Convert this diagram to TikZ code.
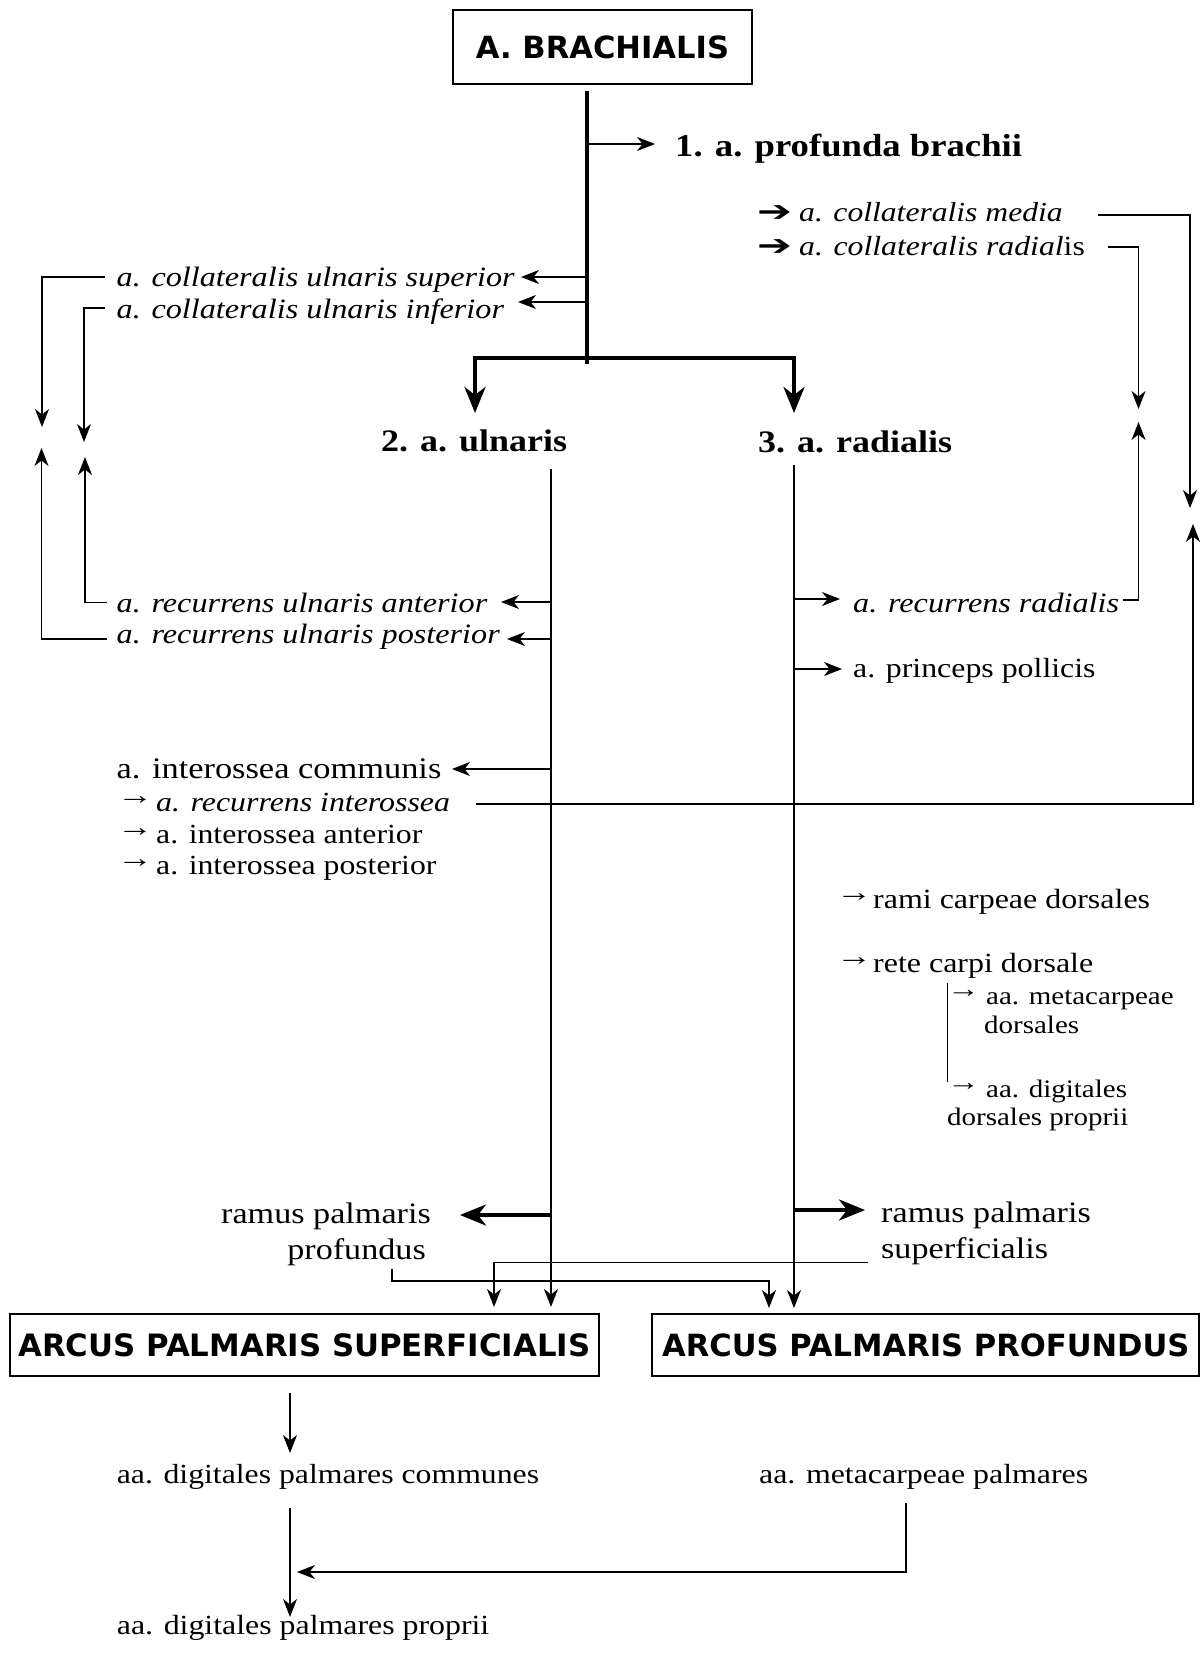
\documentclass[tikz,border=0pt]{standalone}
\usepackage{graphicx}
\usepackage{fontspec}
\setmainfont{Liberation Serif}
\newfontfamily\boxfont{DejaVu Sans}
\newfontfamily\dingfont{DejaVu Sans}
\usetikzlibrary{arrows.meta}

\newcommand\fsz[1]{\fontsize{#1}{#1}\selectfont}
% the serif lettering is set slightly wide
\newcommand\sx[1]{\scalebox{1.15}[1]{#1}}
\newcommand\sarr{\raisebox{6.5pt}{\scalebox{1.3}[1]{→}}}
\newcommand\harr{\smash{\scalebox{1.3}[0.9]{\dingfont\fsz{32}➔}}}

\tikzset{
  arrS/.tip={Stealth[length=18pt,width=14pt,inset=5.5pt]},
  arrB/.tip={Stealth[length=26pt,width=21pt,inset=8pt]},
  lbl/.style={inner sep=0pt, anchor=base west},
  txtrm/.style={lbl, font=\fsz{28.5}},
  txtit/.style={lbl, font=\fsz{28}\itshape},
  txtbf/.style={lbl, font=\fsz{31.3}\bfseries},
  boxed/.style={draw, line width=1.8pt, inner sep=0pt, font=\boxfont\bfseries\fsz{30.6}},
  conn/.style={line width=1.2pt},
  sarrow/.style={conn, -{arrS}},
  vline/.style={line width=2pt, -{arrS}},
  barrow/.style={line width=4pt, -{arrB}},
}

\begin{document}
\begin{tikzpicture}[x=1pt,y=-1pt]
  % page
  \fill[white] (0,0) rectangle (1201,1653);
  \useasboundingbox (0,0) rectangle (1201,1653);

  % ---------- nodes ----------
  \node[boxed, minimum width=299pt, minimum height=74pt, line width=1.4pt] (brach) at (602.5,47) {A. BRACHIALIS};
  \node[txtbf, font=\fsz{31.9}\bfseries] (prof) at (675,157) {\sx{1. a. profunda brachii}};
  \node[txtbf] (uln) at (381,451) {\sx{2. a. ulnaris}};
  \node[txtbf] (rad) at (758,452) {\sx{3. a. radialis}};

  \node[txtit] (cus) at (116.5,287) {\sx{a. collateralis ulnaris superior}};
  \node[txtit] (cui) at (116.5,318) {\sx{a. collateralis ulnaris inferior}};

  \node[txtrm] (cmed) at (757,222) {\makebox[42pt][l]{\harr}\sx{\itshape\fsz{27.5}a. collateralis media}};
  \node[txtrm] (crad) at (757,255) {\makebox[42pt][l]{\harr}\sx{\fsz{27.6}\textit{a. collateralis radial}is}};

  \node[txtit] (rua) at (116.5,612) {\sx{a. recurrens ulnaris anterior}};
  \node[txtit] (rup) at (116.5,643) {\sx{a. recurrens ulnaris posterior}};

  \node[txtrm, font=\fsz{29.9}] (icom) at (116.5,778) {\sx{a. interossea communis}};
  \node[txtrm, font=\fsz{27.7}] (rint) at (117,811) {\makebox[39pt][l]{\sarr}\sx{\itshape a. recurrens interossea}};
  \node[txtrm, font=\fsz{27.6}] (iant) at (117,843) {\makebox[39pt][l]{\sarr}\sx{a. interossea anterior}};
  \node[txtrm, font=\fsz{27.6}] (ipos) at (117,874) {\makebox[39pt][l]{\sarr}\sx{a. interossea posterior}};

  \node[txtit] (rrad) at (853,612) {\sx{a. recurrens radialis}};
  \node[txtrm, font=\fsz{27.7}] (ppol) at (853,677) {\sx{a. princeps pollicis}};

  \node[txtrm, font=\fsz{27.8}] (rcd) at (836,908) {\makebox[37pt][l]{\sarr}\sx{rami carpeae dorsales}};
  \node[txtrm, font=\fsz{27.8}] (rete) at (836,972) {\makebox[37pt][l]{\sarr}\sx{rete carpi dorsale}};
  \node[txtrm, font=\fsz{25.2}] (mcda) at (947,1004) {\makebox[39pt][l]{\sarr}\sx{aa. metacarpeae}};
  \node[txtrm, font=\fsz{25.2}] (mcdb) at (984,1033) {\sx{dorsales}};
  \node[txtrm, font=\fsz{25.2}] (ddpa) at (947,1097) {\makebox[39pt][l]{\sarr}\sx{aa. digitales}};
  \node[txtrm, font=\fsz{25.2}] (ddpb) at (947,1125) {\sx{dorsales proprii}};

  \node[txtrm, font=\fsz{29.7}] (rpsa) at (881,1222) {\sx{ramus palmaris}};
  \node[txtrm, font=\fsz{29.7}] (rpsb) at (881,1258) {\sx{superficialis}};
  \node[txtrm, font=\fsz{29.7}, anchor=base east] (rppa) at (431,1223) {\sx{ramus palmaris}};
  \node[txtrm, font=\fsz{29.7}, anchor=base east] (rppb) at (426,1259) {\sx{profundus}};

  \node[boxed, minimum width=589pt, minimum height=62pt, font=\boxfont\bfseries\fsz{30.8}] (aps) at (304.3,1345) {ARCUS PALMARIS SUPERFICIALIS\hspace{8pt}};
  \node[boxed, minimum width=547pt, minimum height=62pt] (app) at (925.8,1345) {ARCUS PALMARIS PROFUNDUS};

  \node[txtrm, font=\fsz{27.6}] (dpc) at (116.7,1483.5) {\sx{aa. digitales palmares communes}};
  \node[txtrm, font=\fsz{27.7}] (mcp) at (759,1483.5) {\sx{aa. metacarpeae palmares}};
  \node[txtrm, font=\fsz{27.7}] (dpp) at (116.7,1634) {\sx{aa. digitales palmares proprii}};

  % ---------- connector points ----------
  \coordinate (tTop) at (587,91);   \coordinate (tBot) at (587,364);
  \coordinate (tProf) at (587,144); \coordinate (profTip) at (655,144);
  \coordinate (uCorner) at (475,358); \coordinate (rCorner) at (794,358);
  \coordinate (uTip) at (475,413);    \coordinate (rTip) at (794,413);
  \coordinate (tCus) at (587,277); \coordinate (cusTip) at (521,277);
  \coordinate (tCui) at (587,302); \coordinate (cuiTip) at (518,302);

  \coordinate (uTop) at (551,469); \coordinate (uEnd) at (551,1307);
  \coordinate (rTop) at (794,465); \coordinate (rEnd) at (794,1308);

  % brachial trunk and its division
  \draw[line width=4.5pt] (tTop) -- (tBot);
  \draw[sarrow] (tProf) -- (profTip);
  \draw[line width=4pt, miter limit=4, {arrB}-{arrB}] (uTip) -- (uCorner) -- (rCorner) -- (rTip);
  \draw[sarrow] (tCus) -- (cusTip);
  \draw[sarrow] (tCui) -- (cuiTip);

  % ulnar and radial stems
  \draw[vline] (uTop) -- (uEnd);
  \draw[vline] (rTop) -- (rEnd);

  % elbow anastomoses, ulnar side
  \draw[sarrow] (105,277) -- (42,277) -- (42,427);
  \draw[sarrow] (105,308) -- (84,308) -- (84,442);
  \draw[sarrow] (107,639) -- (41.5,639) -- (41.5,448);
  \draw[sarrow] (107,602.5) -- (85,602.5) -- (85,457);
  \draw[sarrow] (551,602) -- (501,602);
  \draw[sarrow] (551,639) -- (507,639);
  \draw[sarrow] (551,769) -- (452,769);

  % a. recurrens interossea to the radial side
  \draw[line width=1.6pt, -{arrS}] (476,804) -- (1193,804) -- (1193,524);

  % elbow anastomoses, radial side
  \draw[sarrow] (1098,215) -- (1190,215) -- (1190,508);
  \draw[sarrow] (1108,247) -- (1138.5,247) -- (1138.5,409);
  \draw[sarrow] (1123,600) -- (1138.5,600) -- (1138.5,422);
  \draw[sarrow] (794,599) -- (840,599);
  \draw[sarrow] (794,669) -- (842,669);

  % rete carpi dorsale branches
  \draw[line width=1pt] (947,983) -- (947,1082);

  % rami palmares
  \draw[barrow] (794,1210) -- (865,1210);
  \draw[barrow] (551,1215) -- (460,1215);
  \draw[sarrow] (868,1262.5) -- (494,1262.5) -- (494,1307);
  \draw[sarrow] (392,1269) -- (392,1281) -- (769,1281) -- (769,1308);

  % palmar arches to the fingers
  \draw[sarrow] (290,1393) -- (290,1453);
  \draw[sarrow] (290,1508) -- (290,1617);
  \draw[sarrow] (906,1503) -- (906,1572) -- (297,1572);
\end{tikzpicture}
\end{document}
